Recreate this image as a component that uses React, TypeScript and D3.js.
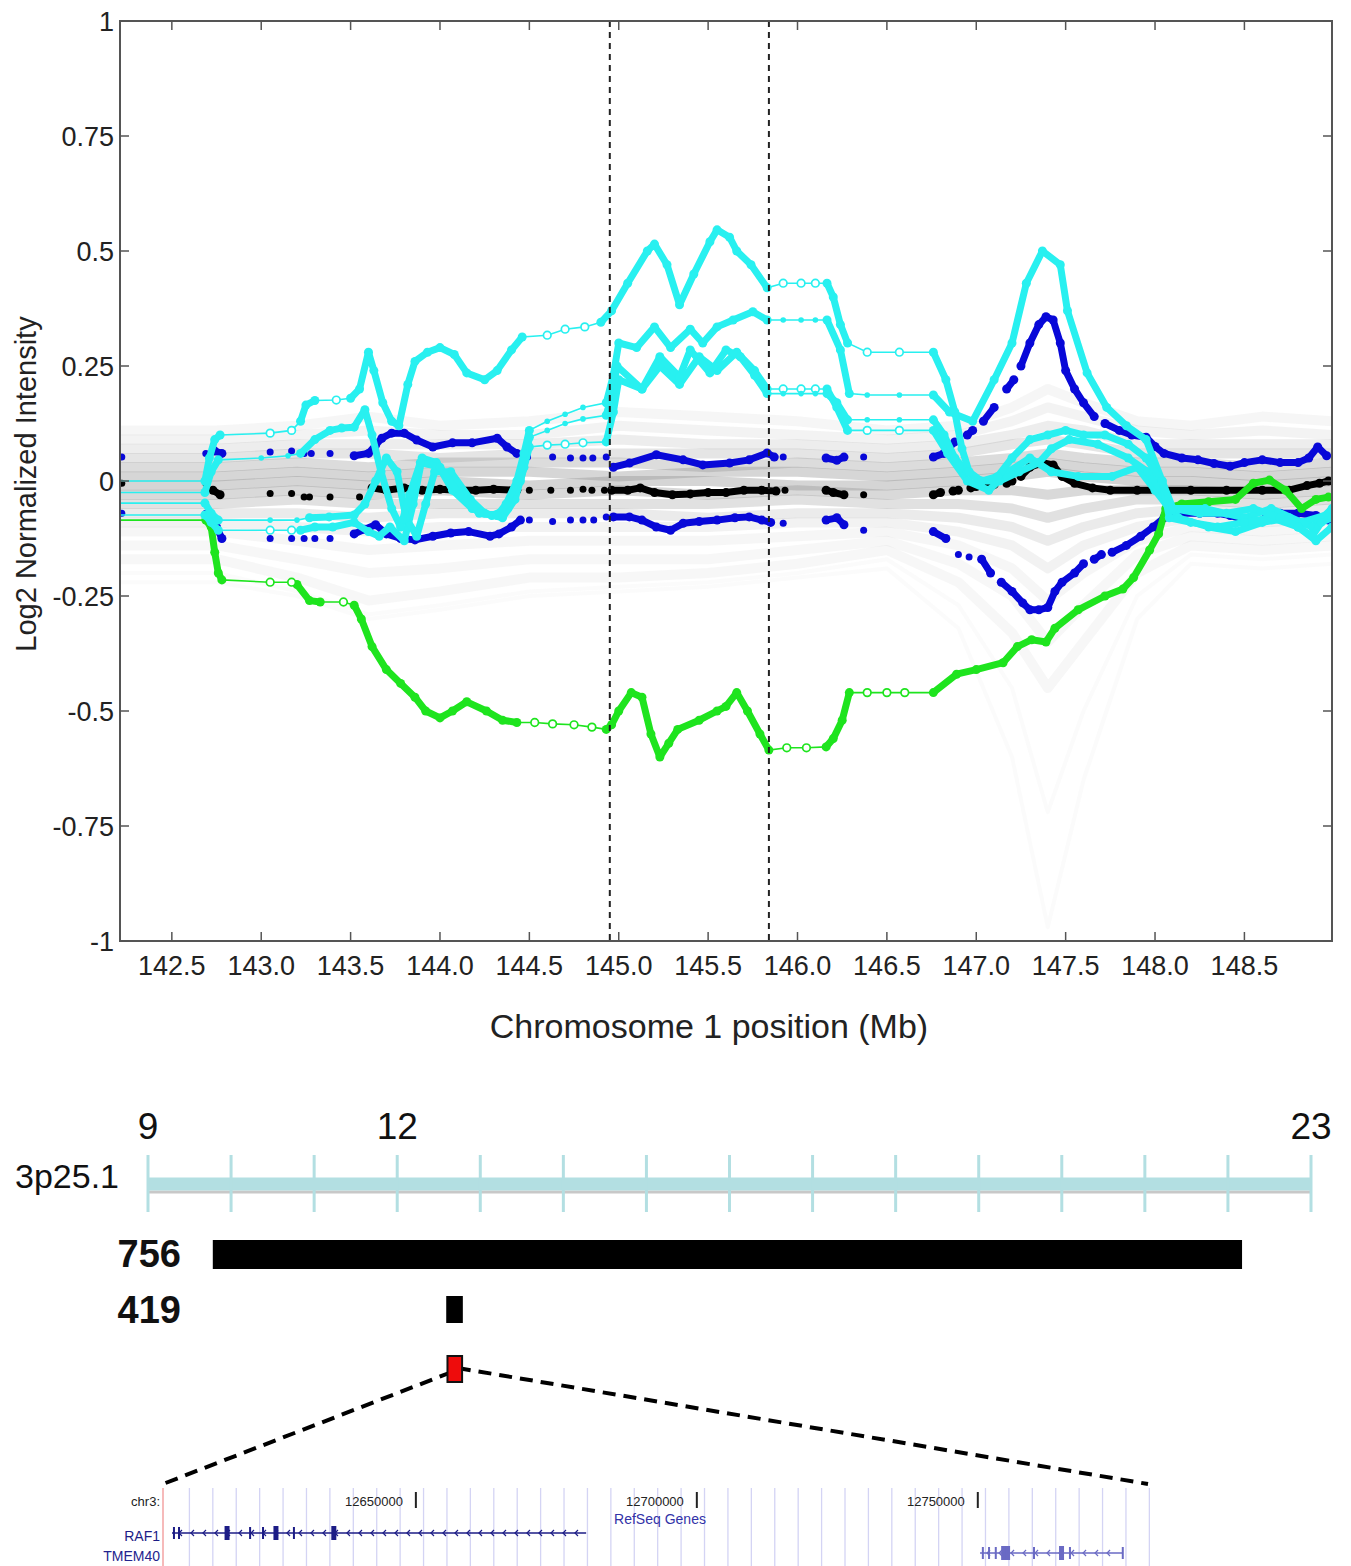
import React from 'react';
import * as d3 from 'd3';

type Pt = [number, number];

// ---- main plot axes ----
const xTicks = [142.5, 143.0, 143.5, 144.0, 144.5, 145.0, 145.5, 146.0, 146.5, 147.0, 147.5, 148.0, 148.5];
const yTicks = [-1, -0.75, -0.5, -0.25, 0, 0.25, 0.5, 0.75, 1];
const boundaries = [144.95, 145.84];

// ---- background (gray) profiles, one value per grayPos ----
const grayPos = [142.21, 142.75, 143.2, 143.6, 144.0, 144.5, 145.0, 145.5, 146.0, 146.5, 146.9, 147.2, 147.4, 147.6, 147.9, 148.2, 148.6, 148.99];
const grayLines = [
  [0.11, 0.11, 0.12, 0.14, 0.12, 0.13, 0.15, 0.14, 0.13, 0.11, 0.12, 0.16, 0.2, 0.17, 0.13, 0.12, 0.14, 0.13],
  [0.09, 0.09, 0.1, 0.11, 0.1, 0.1, 0.12, 0.11, 0.1, 0.09, 0.1, 0.13, 0.16, 0.14, 0.11, 0.1, 0.11, 0.1],
  [0.07, 0.07, 0.08, 0.08, 0.08, 0.08, 0.09, 0.08, 0.08, 0.07, 0.08, 0.1, 0.12, 0.11, 0.08, 0.08, 0.08, 0.08],
  [0.05, 0.05, 0.06, 0.06, 0.05, 0.06, 0.06, 0.06, 0.06, 0.05, 0.06, 0.08, 0.09, 0.08, 0.06, 0.06, 0.06, 0.06],
  [0.03, 0.03, 0.04, 0.03, 0.04, 0.04, 0.04, 0.03, 0.04, 0.03, 0.04, 0.05, 0.06, 0.05, 0.04, 0.04, 0.03, 0.04],
  [0.01, 0.01, 0.02, 0.01, 0.02, 0.02, 0.01, 0.02, 0.02, 0.01, 0.02, 0.03, 0.04, 0.03, 0.02, 0.02, 0.01, 0.02],
  [-0.01, -0.01, 0.0, -0.01, 0.0, -0.01, 0.0, 0.0, -0.01, -0.01, 0.0, 0.01, 0.02, 0.01, 0.0, 0.0, -0.01, 0.0],
  [-0.03, -0.03, -0.02, -0.03, -0.02, -0.03, -0.02, -0.03, -0.02, -0.03, -0.02, -0.02, -0.03, -0.02, -0.02, -0.02, -0.03, -0.02],
  [-0.05, -0.05, -0.04, -0.05, -0.05, -0.05, -0.05, -0.05, -0.04, -0.05, -0.05, -0.06, -0.08, -0.06, -0.04, -0.04, -0.05, -0.04],
  [-0.07, -0.07, -0.07, -0.08, -0.07, -0.07, -0.07, -0.08, -0.07, -0.07, -0.08, -0.1, -0.13, -0.1, -0.07, -0.06, -0.07, -0.06],
  [-0.09, -0.09, -0.1, -0.11, -0.1, -0.1, -0.1, -0.1, -0.09, -0.09, -0.11, -0.14, -0.19, -0.14, -0.1, -0.08, -0.09, -0.08],
  [-0.11, -0.11, -0.13, -0.15, -0.14, -0.13, -0.13, -0.13, -0.12, -0.11, -0.14, -0.19, -0.26, -0.2, -0.13, -0.1, -0.11, -0.1],
  [-0.14, -0.14, -0.17, -0.2, -0.19, -0.17, -0.17, -0.17, -0.15, -0.13, -0.18, -0.25, -0.35, -0.27, -0.16, -0.12, -0.13, -0.12],
  [-0.17, -0.17, -0.21, -0.26, -0.24, -0.21, -0.21, -0.2, -0.18, -0.15, -0.22, -0.33, -0.45, -0.35, -0.2, -0.14, -0.15, -0.14],
  [-0.2, -0.2, -0.24, -0.29, -0.27, -0.24, -0.23, -0.22, -0.2, -0.17, -0.27, -0.45, -0.72, -0.5, -0.25, -0.16, -0.17, -0.16],
  [-0.22, -0.22, -0.25, -0.3, -0.28, -0.25, -0.24, -0.23, -0.21, -0.19, -0.32, -0.6, -0.97, -0.65, -0.3, -0.18, -0.19, -0.18],
];

// ---- highlighted samples: runs of probes [Mb, log2]; single-point runs are sparse probes ----
const blackSeries: Pt[][] = [
  [[142.22, -0.005]], [[142.69, -0.005]], [[142.73, -0.02], [142.77, -0.03]],
  [[143.05, -0.027]], [[143.17, -0.027]], [[143.24, -0.035]], [[143.27, -0.035]], [[143.385, -0.035]], [[143.55, -0.035]],
  [[143.62, -0.015], [143.7, -0.02], [143.8, -0.015], [143.9, -0.02], [144.0, -0.018], [144.1, -0.02], [144.2, -0.02], [144.3, -0.018], [144.43, -0.02]],
  [[144.5, -0.02]], [[144.62, -0.02]], [[144.73, -0.02]], [[144.8, -0.018]], [[144.85, -0.02]], [[144.92, -0.02]],
  [[144.96, -0.02], [145.05, -0.02], [145.12, -0.015], [145.2, -0.025], [145.3, -0.03], [145.4, -0.028], [145.5, -0.025], [145.6, -0.025], [145.7, -0.02], [145.8, -0.02], [145.88, -0.022]],
  [[145.93, -0.02]],
  [[146.16, -0.02], [146.2, -0.025], [146.26, -0.03]], [[146.37, -0.03]],
  [[146.76, -0.03], [146.8, -0.025]], [[146.87, -0.022], [146.9, -0.02]], [[146.97, -0.015], [147.0, -0.012]], [[147.07, -0.01], [147.1, -0.008]], [[147.17, -0.005], [147.2, 0.0]],
  [[147.25, 0.01], [147.3, 0.03], [147.37, 0.04], [147.43, 0.035], [147.48, 0.01], [147.55, -0.005], [147.65, -0.015], [147.75, -0.02], [147.9, -0.02], [148.05, -0.02], [148.2, -0.02], [148.4, -0.02], [148.6, -0.02], [148.75, -0.02], [148.85, -0.01], [148.92, -0.005], [148.97, 0.0]],
];

const blueUpper: Pt[][] = [
  [[142.22, 0.052]], [[142.69, 0.06]], [[142.74, 0.065], [142.78, 0.06]],
  [[143.05, 0.063]], [[143.17, 0.065]], [[143.24, 0.06]], [[143.28, 0.06]], [[143.385, 0.06]],
  [[143.52, 0.055], [143.6, 0.06], [143.64, 0.078], [143.675, 0.093], [143.73, 0.104], [143.8, 0.104], [143.87, 0.089], [143.96, 0.074], [144.07, 0.083], [144.18, 0.083], [144.32, 0.093], [144.375, 0.074], [144.43, 0.06]],
  [[144.49, 0.052]], [[144.63, 0.052]], [[144.73, 0.05]], [[144.8, 0.05]], [[144.855, 0.05]], [[144.93, 0.052]],
  [[144.97, 0.03], [145.06, 0.039], [145.21, 0.057], [145.36, 0.046], [145.47, 0.035], [145.62, 0.039], [145.73, 0.046], [145.83, 0.061], [145.87, 0.052]],
  [[145.92, 0.052]],
  [[146.16, 0.05], [146.22, 0.045], [146.26, 0.052]], [[146.37, 0.052]],
  [[146.76, 0.052], [146.82, 0.06], [146.88, 0.085]], [[146.95, 0.1], [146.98, 0.11]], [[147.04, 0.13], [147.1, 0.16]], [[147.17, 0.2], [147.21, 0.22]],
  [[147.25, 0.25], [147.3, 0.3], [147.35, 0.34], [147.39, 0.357], [147.43, 0.35], [147.47, 0.3], [147.5, 0.24], [147.55, 0.2], [147.6, 0.17], [147.66, 0.14]],
  [[147.72, 0.125], [147.8, 0.11], [147.87, 0.1], [147.95, 0.095], [148.0, 0.075], [148.05, 0.06], [148.15, 0.05], [148.24, 0.046], [148.33, 0.038], [148.42, 0.032], [148.5, 0.04], [148.6, 0.046], [148.7, 0.04], [148.8, 0.04], [148.86, 0.05], [148.91, 0.074], [148.96, 0.055]],
];

const blueLower: Pt[][] = [
  [[142.22, -0.07]], [[142.69, -0.07]], [[142.75, -0.1], [142.78, -0.125]],
  [[143.05, -0.125]], [[143.17, -0.125]], [[143.24, -0.125]], [[143.3, -0.125]], [[143.385, -0.125]],
  [[143.52, -0.115], [143.58, -0.105], [143.64, -0.095], [143.7, -0.115], [143.78, -0.125], [143.86, -0.128], [143.96, -0.12], [144.06, -0.113], [144.16, -0.11], [144.28, -0.12], [144.33, -0.115], [144.4, -0.1], [144.45, -0.085]],
  [[144.5, -0.085]], [[144.63, -0.088]], [[144.73, -0.085]], [[144.8, -0.085]], [[144.86, -0.085]], [[144.93, -0.078]],
  [[144.97, -0.078], [145.06, -0.078], [145.13, -0.085], [145.21, -0.1], [145.29, -0.107], [145.36, -0.092], [145.45, -0.088], [145.55, -0.085], [145.65, -0.08], [145.73, -0.078], [145.8, -0.085], [145.85, -0.09]],
  [[145.92, -0.092]],
  [[146.16, -0.085], [146.22, -0.08], [146.26, -0.095]], [[146.37, -0.107]],
  [[146.76, -0.11], [146.83, -0.125]], [[146.9, -0.16]], [[146.96, -0.165]], [[147.03, -0.17], [147.08, -0.2]],
  [[147.14, -0.22], [147.2, -0.24], [147.26, -0.265], [147.3, -0.28], [147.35, -0.28], [147.4, -0.275], [147.44, -0.24], [147.48, -0.22], [147.55, -0.2], [147.6, -0.18]],
  [[147.66, -0.17], [147.7, -0.16]],
  [[147.76, -0.155], [147.84, -0.14], [147.92, -0.12], [147.99, -0.1], [148.05, -0.08], [148.15, -0.07], [148.25, -0.07], [148.35, -0.07], [148.42, -0.075], [148.5, -0.085], [148.57, -0.09], [148.62, -0.08], [148.7, -0.07], [148.8, -0.07], [148.9, -0.075], [148.97, -0.085]],
];

const greenSeries: Pt[][] = [
  [[142.21, -0.085]],
  [[142.69, -0.085], [142.72, -0.1], [142.74, -0.155], [142.76, -0.2], [142.78, -0.215]],
  [[143.05, -0.22]], [[143.17, -0.22]],
  [[143.2, -0.225], [143.27, -0.26], [143.33, -0.263]],
  [[143.46, -0.263]],
  [[143.52, -0.27], [143.56, -0.3], [143.62, -0.36], [143.7, -0.41], [143.78, -0.44], [143.86, -0.47], [143.92, -0.5], [144.0, -0.515], [144.07, -0.5], [144.15, -0.48], [144.26, -0.5], [144.35, -0.52], [144.43, -0.525]],
  [[144.53, -0.525]], [[144.63, -0.528]], [[144.75, -0.53]], [[144.85, -0.535]],
  [[144.93, -0.54], [144.96, -0.53], [145.0, -0.5], [145.07, -0.46], [145.13, -0.47], [145.18, -0.55], [145.23, -0.6], [145.28, -0.57], [145.33, -0.54], [145.45, -0.52], [145.55, -0.5], [145.6, -0.49], [145.66, -0.46], [145.72, -0.5], [145.79, -0.55], [145.84, -0.585]],
  [[145.94, -0.58]], [[146.05, -0.58]],
  [[146.16, -0.578], [146.2, -0.56], [146.25, -0.52], [146.29, -0.46]],
  [[146.39, -0.46]], [[146.5, -0.46]], [[146.6, -0.46]],
  [[146.76, -0.46], [146.89, -0.42], [147.0, -0.41], [147.15, -0.395], [147.23, -0.36], [147.31, -0.345], [147.39, -0.35], [147.44, -0.32], [147.57, -0.28], [147.72, -0.25], [147.82, -0.235], [147.88, -0.21], [147.97, -0.15], [148.02, -0.115], [148.06, -0.06], [148.15, -0.05], [148.3, -0.045], [148.45, -0.04], [148.55, -0.005], [148.64, 0.002], [148.73, -0.02], [148.82, -0.06], [148.9, -0.04], [148.97, -0.035]],
];

const cyanA: Pt[][] = [
  [[142.21, 0.0]],
  [[142.685, 0.0], [142.71, 0.05], [142.74, 0.09], [142.77, 0.1]],
  [[143.05, 0.104]], [[143.17, 0.11]],
  [[143.22, 0.13], [143.25, 0.165], [143.3, 0.175]],
  [[143.42, 0.176]],
  [[143.5, 0.18], [143.55, 0.2], [143.6, 0.28], [143.63, 0.24], [143.68, 0.17], [143.73, 0.13], [143.77, 0.12], [143.82, 0.21], [143.86, 0.26], [143.93, 0.28], [144.0, 0.29], [144.08, 0.275], [144.15, 0.235], [144.25, 0.22], [144.32, 0.24], [144.4, 0.285], [144.46, 0.313]],
  [[144.6, 0.317]], [[144.7, 0.33]], [[144.81, 0.335]],
  [[144.9, 0.345], [144.96, 0.37], [145.05, 0.43], [145.16, 0.5], [145.2, 0.515], [145.27, 0.47], [145.34, 0.383], [145.42, 0.45], [145.51, 0.52], [145.55, 0.546], [145.62, 0.53], [145.66, 0.5], [145.74, 0.47], [145.83, 0.42]],
  [[145.92, 0.43]], [[146.02, 0.43]], [[146.1, 0.43]],
  [[146.165, 0.43], [146.2, 0.4], [146.24, 0.34], [146.28, 0.3]],
  [[146.39, 0.28]], [[146.57, 0.28]],
  [[146.76, 0.28], [146.83, 0.22], [146.88, 0.15], [146.92, 0.07], [146.96, 0.02], [147.03, 0.0], [147.12, 0.01], [147.2, 0.05], [147.3, 0.09], [147.4, 0.1], [147.5, 0.11], [147.6, 0.1], [147.72, 0.1], [147.85, 0.08], [147.95, 0.05], [148.04, 0.0], [148.1, -0.06], [148.25, -0.07], [148.4, -0.07], [148.55, -0.06], [148.7, -0.08], [148.8, -0.1], [148.88, -0.12], [148.93, -0.09], [148.99, -0.08]],
];

const cyanB: Pt[][] = [
  [[142.21, -0.025]],
  [[142.685, -0.025], [142.72, 0.02], [142.76, 0.046]],
  [[143.0, 0.05]], [[143.15, 0.055]],
  [[143.22, 0.06], [143.3, 0.09], [143.385, 0.11], [143.45, 0.115], [143.52, 0.117], [143.58, 0.155], [143.62, 0.1], [143.67, 0.02], [143.73, -0.06], [143.78, -0.1], [143.83, -0.03], [143.89, 0.04], [144.0, 0.03], [144.11, -0.03], [144.22, -0.07], [144.32, -0.075], [144.37, -0.05], [144.43, 0.0], [144.47, 0.06], [144.5, 0.11]],
  [[144.6, 0.13]], [[144.7, 0.145]], [[144.8, 0.16]],
  [[144.93, 0.17], [144.97, 0.23], [145.0, 0.3], [145.1, 0.29], [145.2, 0.335], [145.29, 0.29], [145.4, 0.33], [145.47, 0.3], [145.55, 0.335], [145.64, 0.35], [145.75, 0.368], [145.83, 0.35]],
  [[145.92, 0.35]], [[146.02, 0.35]], [[146.1, 0.35]],
  [[146.165, 0.35], [146.24, 0.285], [146.29, 0.19]],
  [[146.39, 0.187]], [[146.57, 0.187]],
  [[146.76, 0.187], [146.85, 0.15], [146.98, 0.13], [147.1, 0.22], [147.2, 0.3], [147.28, 0.43], [147.37, 0.5], [147.47, 0.47], [147.51, 0.37], [147.62, 0.235], [147.73, 0.16], [147.84, 0.12], [147.95, 0.09], [148.04, 0.0], [148.08, -0.08], [148.2, -0.09], [148.35, -0.1], [148.5, -0.09], [148.65, -0.08], [148.8, -0.1], [148.9, -0.13], [148.99, -0.1]],
];

const cyanC: Pt[][] = [
  [[142.21, -0.048]],
  [[142.685, -0.048], [142.72, -0.07], [142.76, -0.085]],
  [[143.05, -0.085]], [[143.2, -0.085]],
  [[143.27, -0.08], [143.38, -0.078], [143.52, -0.074], [143.58, -0.05], [143.64, 0.0], [143.7, 0.05], [143.76, 0.02], [143.81, -0.08], [143.87, -0.12], [143.92, -0.05], [143.97, 0.02], [144.06, 0.02], [144.17, -0.04], [144.25, -0.07], [144.35, -0.08], [144.42, -0.04], [144.47, 0.03], [144.5, 0.095]],
  [[144.6, 0.11]], [[144.7, 0.125]], [[144.8, 0.135]],
  [[144.93, 0.143], [144.97, 0.2], [144.99, 0.25], [145.13, 0.2], [145.23, 0.27], [145.34, 0.226], [145.4, 0.285], [145.51, 0.235], [145.6, 0.285], [145.68, 0.27], [145.76, 0.23], [145.83, 0.19]],
  [[145.92, 0.19]], [[146.02, 0.19]], [[146.1, 0.19]],
  [[146.165, 0.19], [146.22, 0.17], [146.28, 0.133]],
  [[146.39, 0.133]], [[146.57, 0.133]],
  [[146.76, 0.133], [146.82, 0.1], [146.88, 0.05], [146.95, 0.02], [147.02, 0.0], [147.13, 0.0], [147.24, 0.02], [147.35, 0.04], [147.42, 0.07], [147.52, 0.09], [147.68, 0.08], [147.85, 0.05], [147.96, 0.02], [148.05, -0.03], [148.13, -0.08], [148.3, -0.1], [148.45, -0.11], [148.6, -0.09], [148.75, -0.08], [148.88, -0.1], [148.99, -0.06]],
];

const cyanD: Pt[][] = [
  [[142.21, -0.074]],
  [[142.685, -0.074], [142.72, -0.09], [142.76, -0.107]],
  [[143.05, -0.107]], [[143.17, -0.107]],
  [[143.22, -0.107], [143.3, -0.1], [143.4, -0.1], [143.52, -0.09], [143.6, -0.11], [143.66, -0.12], [143.72, -0.1], [143.8, -0.13], [143.85, -0.05], [143.9, 0.05], [143.98, 0.04], [144.07, -0.02], [144.18, -0.06], [144.29, -0.075], [144.38, -0.06], [144.45, 0.0], [144.5, 0.074]],
  [[144.6, 0.078]], [[144.7, 0.08]], [[144.8, 0.083]],
  [[144.93, 0.085], [144.97, 0.15], [145.0, 0.22], [145.13, 0.2], [145.23, 0.25], [145.34, 0.21], [145.45, 0.27], [145.55, 0.24], [145.66, 0.28], [145.76, 0.24], [145.83, 0.2]],
  [[145.92, 0.2]], [[146.02, 0.2]], [[146.1, 0.2]],
  [[146.165, 0.2], [146.22, 0.16], [146.28, 0.11]],
  [[146.39, 0.11]], [[146.57, 0.11]],
  [[146.76, 0.11], [146.84, 0.06], [146.95, 0.0], [147.07, -0.02], [147.18, 0.02], [147.3, 0.05], [147.42, 0.02], [147.57, 0.01], [147.76, 0.01], [147.9, 0.03], [148.0, -0.02], [148.08, -0.06], [148.28, -0.06], [148.5, -0.08], [148.65, -0.06], [148.82, -0.09], [148.99, -0.07]],
];

// ---- cytoband panel ----
const bandTicks = d3.range(9, 24);
const bandLabels = [9, 12, 23];
const bandName = '3p25.1';
const cnvLabels = ['756', '419'];
const cnvStart = [9.78, 12.59];
const cnvEnd = [22.17, 12.79];

// ---- browser window (bp) ----
const windowStart = 12605000;
const windowEnd = 12781000;
const posLabels = [12650000, 12700000, 12750000];
const geneNames = ['RAF1', 'TMEM40'];
const geneStart = [12606600, 12750400];
const geneEnd = [12680300, 12775800];
const raf1Exons = [12606950, 12607850, 12616400, 12620500, 12622800, 12625100, 12628300, 12635400];
const raf1ExonWide = [0, 0, 1, 0, 0, 1, 0, 1];
const tmem40Exons = [12750900, 12752000, 12753200, 12754600, 12755300, 12760000, 12764900, 12766400, 12775800];
const tmem40ExonWide = [0, 0, 0, 1, 1, 0, 1, 0, 0];

const FONT = 'Liberation Sans, Arial, Helvetica, sans-serif';
const CYAN = '#28f0f0';
const BLUE = '#0808d8';
const GREEN = '#1ee41e';

type Kind = 'open' | 'small' | 'dots';

function Series({ runs, color, kind, x, y, width }: { runs: Pt[][]; color: string; kind: Kind; x: any; y: any; width: number }) {
  const line = d3.line<Pt>().x((d) => x(d[0])).y((d) => y(d[1]));
  const dense = runs.filter((r) => r.length > 1);
  const sparse = runs.filter((r) => r.length === 1).map((r) => r[0]);
  const xmin = x.domain()[0];
  return (
    <g>
      {kind !== 'dots' && <path d={line(runs.flat()) || ''} fill="none" stroke={color} strokeWidth={1.6} />}
      {dense.map((r, i) => (
        <path key={'d' + i} d={line(r) || ''} fill="none" stroke={color} strokeWidth={width} strokeLinejoin="round" strokeLinecap="round" />
      ))}
      {dense.flat().map((d, i) => (
        <circle key={'c' + i} cx={x(d[0])} cy={y(d[1])} r={width / 2 + 1} fill={color} />
      ))}
      {sparse
        .filter((d) => kind === 'dots' || d[0] > xmin + 0.02)
        .map((d, i) =>
          kind === 'open' ? (
            <circle key={'s' + i} cx={x(d[0])} cy={y(d[1])} r={3.8} fill="#fff" stroke={color} strokeWidth={1.7} />
          ) : kind === 'small' ? (
            <circle key={'s' + i} cx={x(d[0])} cy={y(d[1])} r={2.8} fill={color} />
          ) : (
            <circle key={'s' + i} cx={x(d[0])} cy={y(d[1])} r={width / 2} fill={color} />
          )
        )}
    </g>
  );
}

export default function App() {
  const W = 1351;
  const H = 1566;
  const x = d3.scaleLinear().domain([142.21, 148.99]).range([120, 1332]);
  const y = d3.scaleLinear().domain([-1, 1]).range([941, 21]);
  const [x0, x1] = x.range();
  const [y1, y0] = y.range();

  const grayLine = d3.line<number>().x((_, i) => x(grayPos[i])).y((v) => y(v));

  // cytoband scale (Mb)
  const c = d3.scaleLinear().domain([9, 23]).range([148, 1311]);
  // browser scale (bp)
  const g = d3.scaleLinear().domain([windowStart, windowEnd]).range([163, 1152]);
  const gridBp = d3.range(windowStart + 4700, windowEnd, 50000 / 12);
  const zoomMid = c((windowStart + windowEnd) / 2e6);

  const bandY = 1184;
  const cnvY = [1254, 1310];
  const geneY = [1533, 1553];
  const exonSets = [raf1Exons, tmem40Exons];
  const exonWide = [raf1ExonWide, tmem40ExonWide];
  const geneColor = ['#1c1c86', '#6a6ac4'];
  const labelColor = ['#1c1c86', '#24248e'];

  return (
    <svg width={W} height={H} style={{ position: 'absolute', left: 0, top: 0, background: '#fff' }} fontFamily={FONT}>
      <rect x={0} y={0} width={W} height={H} fill="#fff" />
      <defs>
        <clipPath id="plotClip">
          <rect x={x0} y={y0} width={x1 - x0} height={y1 - y0} />
        </clipPath>
      </defs>

      <g clipPath="url(#plotClip)">
        {grayLines.map((vals, i) => {
          const mean = d3.mean(vals.slice(0, 10)) || 0;
          const deep = (d3.min(vals) || 0) < -0.6;
          const op = deep ? 0.035 : 0.07 + 0.3 * Math.exp(-((mean / 0.07) ** 2));
          return <path key={i} d={grayLine(vals) || ''} fill="none" stroke="#8c8c8c" strokeOpacity={op} strokeWidth={deep ? 4 : 10} strokeLinejoin="round" />;
        })}
        <Series runs={blackSeries} color="#000" kind="dots" x={x} y={y} width={7} />
        <Series runs={blueUpper} color={BLUE} kind="dots" x={x} y={y} width={7} />
        <Series runs={blueLower} color={BLUE} kind="dots" x={x} y={y} width={7} />
        <Series runs={greenSeries} color={GREEN} kind="open" x={x} y={y} width={7} />
        <Series runs={cyanD} color={CYAN} kind="open" x={x} y={y} width={7} />
        <Series runs={cyanC} color={CYAN} kind="small" x={x} y={y} width={7} />
        <Series runs={cyanB} color={CYAN} kind="small" x={x} y={y} width={7} />
        <Series runs={cyanA} color={CYAN} kind="open" x={x} y={y} width={7} />
        {boundaries.map((b) => (
          <line key={b} x1={x(b)} x2={x(b)} y1={y0} y2={y1} stroke="#222" strokeWidth={2} strokeDasharray="6,5" />
        ))}
      </g>

      {/* axes box and ticks */}
      <rect x={x0} y={y0} width={x1 - x0} height={y1 - y0} fill="none" stroke="#555" strokeWidth={2} />
      {yTicks.map((t) => (
        <g key={'y' + t}>
          <line x1={x0} x2={x0 + 9} y1={y(t)} y2={y(t)} stroke="#555" strokeWidth={1.5} />
          <line x1={x1} x2={x1 - 9} y1={y(t)} y2={y(t)} stroke="#555" strokeWidth={1.5} />
          <text x={x0 - 6} y={y(t)} dy="0.36em" textAnchor="end" fontSize={27} fill="#222">
            {String(t)}
          </text>
        </g>
      ))}
      {xTicks.map((t) => (
        <g key={'x' + t}>
          <line x1={x(t)} x2={x(t)} y1={y1} y2={y1 - 9} stroke="#555" strokeWidth={1.5} />
          <line x1={x(t)} x2={x(t)} y1={y0} y2={y0 + 9} stroke="#555" strokeWidth={1.5} />
          <text x={x(t)} y={y1 + 34} textAnchor="middle" fontSize={27} fill="#222">
            {d3.format('.1f')(t)}
          </text>
        </g>
      ))}
      <text x={(x0 + x1) / 2 - 17} y={1038} textAnchor="middle" fontSize={34} fill="#222">
        Chromosome 1 position (Mb)
      </text>
      <text transform={`translate(36,${(y0 + y1) / 2 + 3}) rotate(-90)`} textAnchor="middle" fontSize={29} fill="#222">
        Log2 Normalized Intensity
      </text>

      {/* cytoband */}
      {bandLabels.map((b) => (
        <text key={'bl' + b} x={c(b)} y={1139} textAnchor="middle" fontSize={37} fill="#111">
          {b}
        </text>
      ))}
      <text x={15} y={1188} fontSize={34} fill="#111">
        {bandName}
      </text>
      <line x1={c(9)} x2={c(23)} y1={bandY + 8} y2={bandY + 8} stroke="#c8c8c8" strokeWidth={3} />
      <line x1={c(9)} x2={c(23)} y1={bandY} y2={bandY} stroke="#b3dfe2" strokeWidth={13} />
      {bandTicks.map((t) => (
        <line key={'bt' + t} x1={c(t)} x2={c(t)} y1={1155} y2={1212} stroke="#b3dfe2" strokeWidth={3} />
      ))}
      {cnvLabels.map((l, i) => (
        <g key={l}>
          <text x={181} y={cnvY[i] + 13} textAnchor="end" fontSize={38} fontWeight="bold" fill="#111">
            {l}
          </text>
          <rect x={c(cnvStart[i])} y={cnvY[i] - 14} width={c(cnvEnd[i]) - c(cnvStart[i])} height={i === 0 ? 29 : 27} fill="#000" />
        </g>
      ))}

      {/* zoom connector */}
      <line x1={zoomMid - 3} y1={1372} x2={g(windowStart)} y2={1484} stroke="#000" strokeWidth={4} strokeDasharray="13,8" />
      <line x1={zoomMid + 3} y1={1368} x2={g(windowEnd) - 4} y2={1484} stroke="#000" strokeWidth={4} strokeDasharray="13,8" />
      <rect x={c(windowStart / 1e6)} y={1356} width={c(windowEnd / 1e6) - c(windowStart / 1e6)} height={26} fill="#ee0c0c" stroke="#111" strokeWidth={2} />

      {/* browser track */}
      {gridBp.map((b, i) => (
        <line key={'gr' + i} x1={g(b)} x2={g(b)} y1={1488} y2={H} stroke="#d4d4f4" strokeWidth={1.3} />
      ))}
      <line x1={g(windowStart)} x2={g(windowStart)} y1={1488} y2={H} stroke="#f3a3a3" strokeWidth={1.5} />
      <text x={160} y={1506} textAnchor="end" fontSize={13} fill="#222">
        chr3:
      </text>
      {posLabels.map((p) => (
        <g key={p}>
          <text x={g(p) - 13} y={1506} textAnchor="end" fontSize={13} fill="#222">
            {p}
          </text>
          <line x1={g(p)} x2={g(p)} y1={1492} y2={1508} stroke="#222" strokeWidth={2} />
        </g>
      ))}
      <text x={660} y={1524} textAnchor="middle" fontSize={14} fill="#3232a8">
        RefSeq Genes
      </text>
      {geneNames.map((n, i) => (
        <g key={n}>
          <text x={160} y={geneY[i] + 8} textAnchor="end" fontSize={14} fill={labelColor[i]}>
            {n}
          </text>
          <line x1={g(geneStart[i])} x2={g(geneEnd[i])} y1={geneY[i]} y2={geneY[i]} stroke={geneColor[i]} strokeWidth={1.5} />
          {d3.range(g(geneStart[i]) + 8, g(geneEnd[i]) - 4, 12).map((px, k) => (
            <path key={k} d={`M${px + 2},${geneY[i] - 3}L${px - 1},${geneY[i]}L${px + 2},${geneY[i] + 3}`} fill="none" stroke={geneColor[i]} strokeWidth={1.2} />
          ))}
          {exonSets[i].map((e, k) => (
            <rect key={k} x={g(e) - (exonWide[i][k] ? 2.5 : 1)} y={geneY[i] - (exonWide[i][k] ? 7 : 6)} width={exonWide[i][k] ? 5 : 2} height={exonWide[i][k] ? 14 : 12} fill={geneColor[i]} />
          ))}
        </g>
      ))}
    </svg>
  );
}
